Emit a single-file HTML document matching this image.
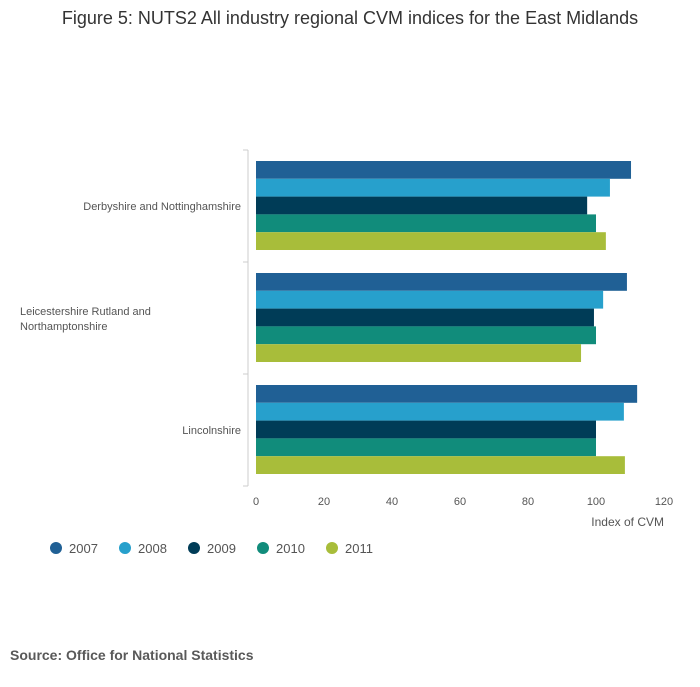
<!DOCTYPE html>
<html><head><meta charset="utf-8"><style>
body{margin:0;background:#fff;font-family:"Liberation Sans",sans-serif;}
</style></head><body>
<svg width="700" height="682" xmlns="http://www.w3.org/2000/svg" id="chart" font-family="Liberation Sans, sans-serif">
<text x="350" y="24" text-anchor="middle" font-size="18" fill="#333">Figure 5: NUTS2 All industry regional CVM indices for the East Midlands</text>
<text x="10" y="660" font-size="14" font-weight="bold" fill="#595959">Source: Office for National Statistics</text>
<g id="plot"></g>
</svg>
<script>
const categories=[["Derbyshire and Nottinghamshire"],["Leicestershire Rutland and","Northamptonshire"],["Lincolnshire"]];
const seriesNames=["2007","2008","2009","2010","2011"];
const s2007=[110.3,109.1,112.1];
const s2008=[104.1,102.1,108.2];
const s2009=[97.4,99.4,100];
const s2010=[100,100,100];
const s2011=[102.9,95.6,108.5];
const ticks=[0,20,40,60,80,100,120];
const series=[s2007,s2008,s2009,s2010,s2011];
const colors=["#206095","#27a0cc","#003c57","#118c7b","#a8bd3a"];
const NS="http://www.w3.org/2000/svg";
const g=document.getElementById('plot');
const x0=256,pxPer=3.4,plotTop=150,band=112,barH=17.8,pad=11;
const xs=v=>x0+v*pxPer;
function el(t,a,txt){const e=document.createElementNS(NS,t);for(const k in a)e.setAttribute(k,a[k]);if(txt!==undefined)e.textContent=txt;g.appendChild(e);return e;}
let ax=el('line',{x1:248,x2:248,y1:plotTop,y2:plotTop+band*3,stroke:'#ccc'});


for(let i=0;i<=3;i++){let t=el('line',{x1:243,x2:248,y1:plotTop+i*band,y2:plotTop+i*band,stroke:'#ccc'});

}
categories.forEach((c,i)=>{
  const cy=plotTop+i*band+band/2;
  c.forEach((line,j)=>{
    const y=c.length===1?cy+4:cy-3+j*15;
    const anchor=c.length===1?'end':'start';
    const tx=c.length===1?241:20;
    let t=el('text',{x:tx,y:y,'font-size':11,fill:'#555','text-anchor':anchor},line);
    
    
  });
  series.forEach((s,k)=>{
    let r=el('rect',{x:x0,y:plotTop+i*band+pad+k*barH,width:xs(s[i])-x0,height:barH,fill:colors[k]});
    
    
  });
});
ticks.forEach(v=>{
  let t=el('text',{x:xs(v),y:505,'font-size':11,fill:'#555','text-anchor':'middle'},String(v));
  
  
});
let xt=el('text',{x:664,y:526,'font-size':12,fill:'#555','text-anchor':'end'},'Index of CVM');


const legX=[56,125,194,263,332];
seriesNames.forEach((n,k)=>{
  let c=el('circle',{cx:legX[k],cy:548,r:6,fill:colors[k]});
  
  
  let t=el('text',{x:legX[k]+13,y:553,'font-size':13,fill:'#555'},n);
  
  
});
</script>
</body></html>
